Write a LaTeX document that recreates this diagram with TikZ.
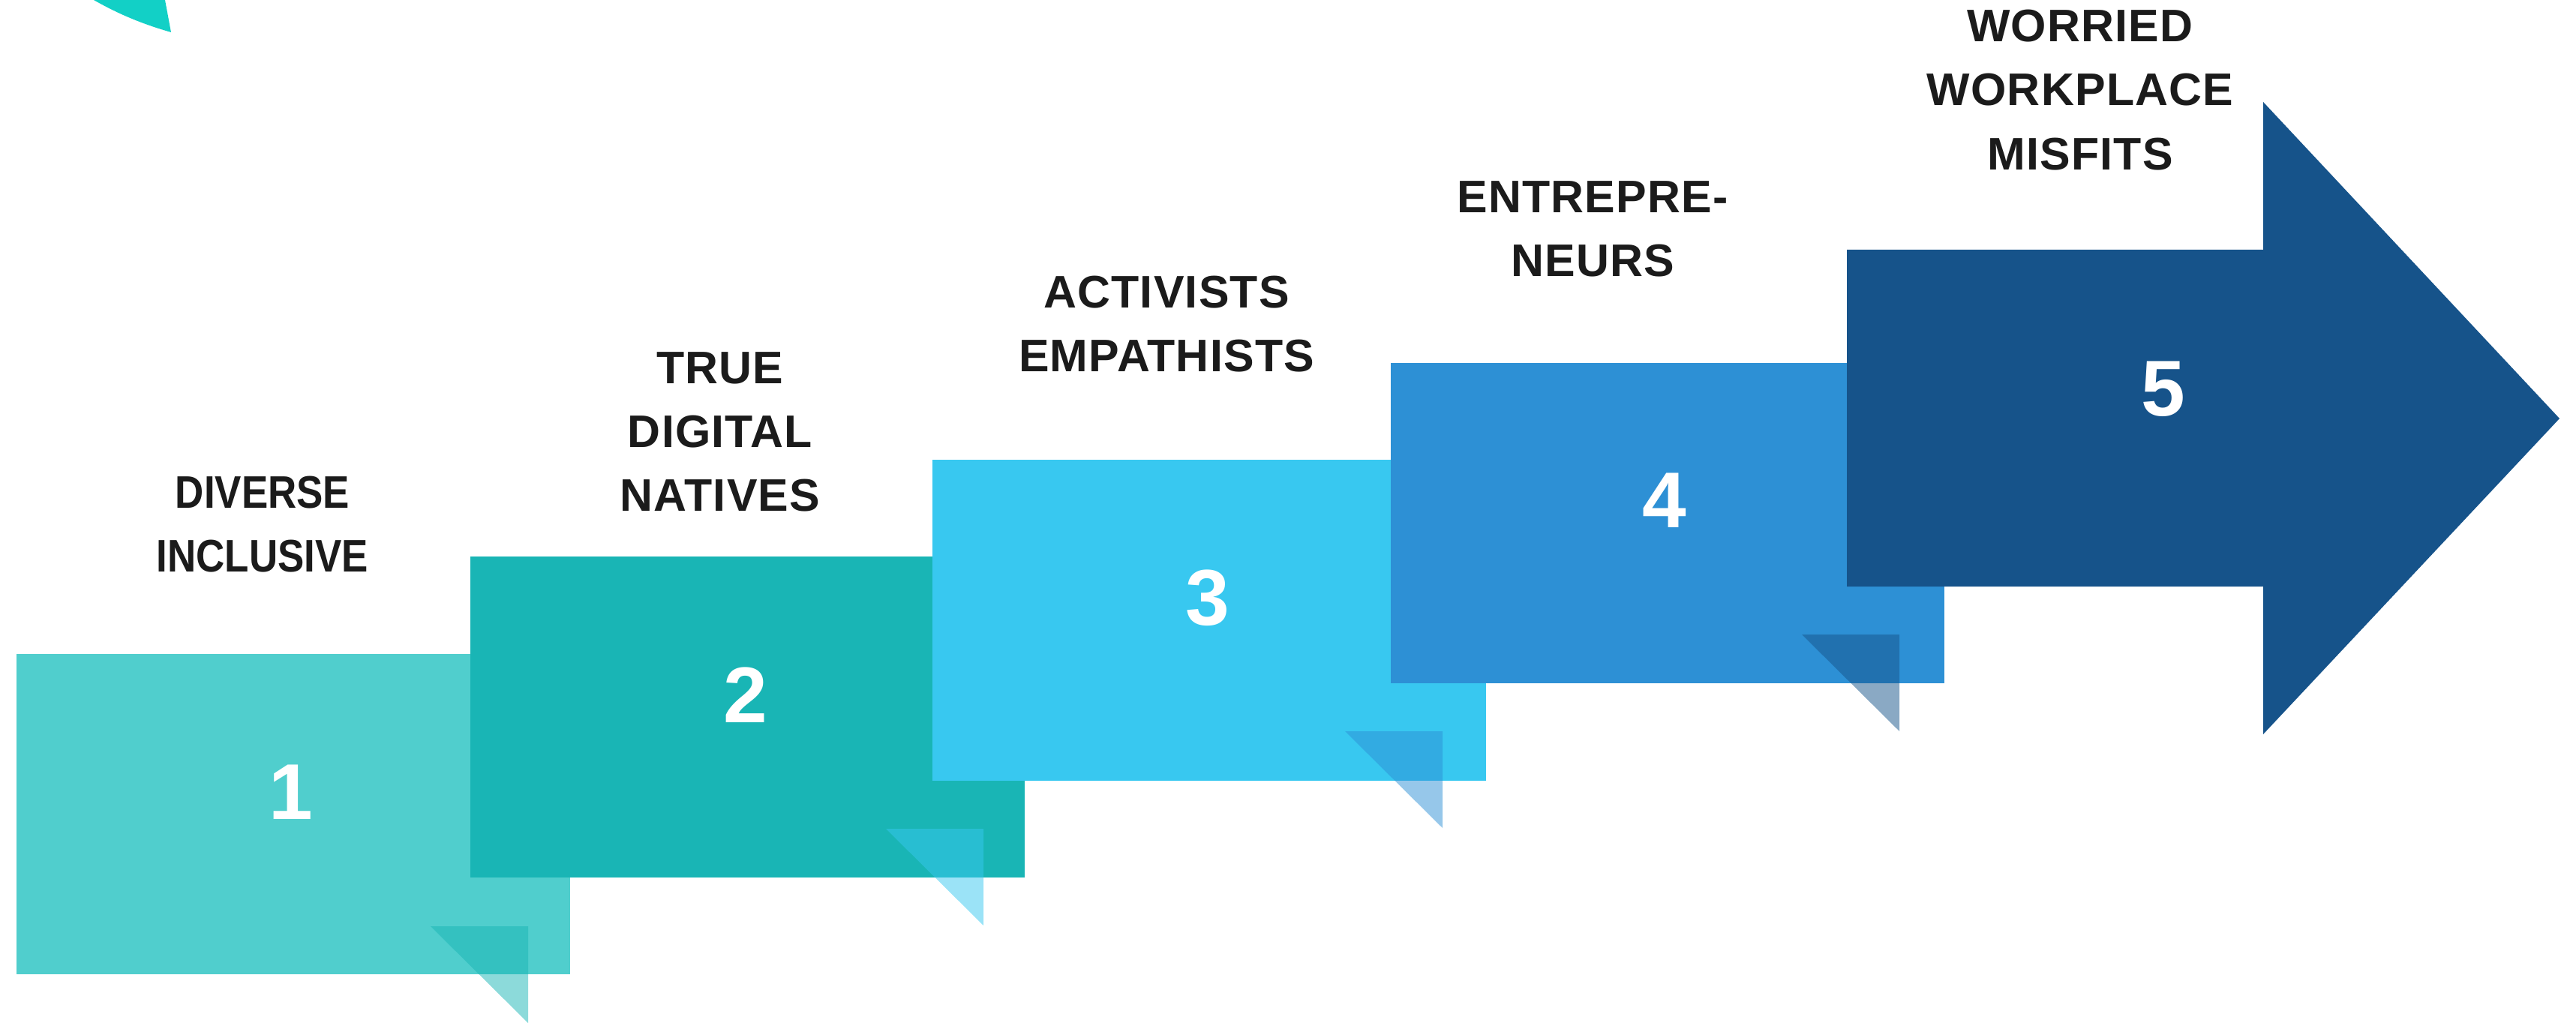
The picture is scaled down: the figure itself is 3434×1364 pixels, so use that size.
\documentclass[tikz,border=0pt]{standalone}
\usepackage{fontspec}
\setmainfont{Liberation Sans}
\newfontfamily\labfont{Liberation Sans}[LetterSpace=2]
\newfontfamily\narrowfont{Liberation Sans}[FakeStretch=0.87]
\definecolor{c1}{HTML}{50CECD}
\definecolor{c2}{HTML}{19B5B5}
\definecolor{c3}{HTML}{38C8F0}
\definecolor{c4}{HTML}{2D90D5}
\definecolor{c5}{HTML}{16538A}
\definecolor{corner}{HTML}{12D0C6}
\definecolor{txt}{HTML}{1B1B1B}
\begin{document}
\begin{tikzpicture}[x=0.01cm,y=-0.01cm,
  box/.style={rectangle, draw=none, inner sep=0, minimum width=7.38cm, minimum height=4.27cm},
  tri/.style={opacity=0.5},
  num/.style={text=white, font=\bfseries\fontsize{30}{36}\selectfont, inner sep=0},
  lab/.style={text=txt, font=\labfont\bfseries\fontsize{17.3}{24.2}\selectfont, align=center, inner sep=0}]
\useasboundingbox (0,0) rectangle (3434,1364);
% corner arc piece
\fill[corner] (125,0) .. controls (160,20) and (193,33) .. (228,43) -- (220,0) -- cycle;
% steps
\node[box, fill=c1] (b1) at (391,1085.5) {};
\fill[c2, tri] (574,1235) -- (704,1235) -- (704,1364) -- cycle;
\node[box, fill=c2] (b2) at (996.5,956) {};
\fill[c3, tri] (1181,1105) -- (1311,1105) -- (1311,1234) -- cycle;
\node[box, fill=c3] (b3) at (1612,827) {};
\fill[c4, tri] (1793,975) -- (1923,975) -- (1923,1104) -- cycle;
\node[box, fill=c4] (b4) at (2223,697.5) {};
\fill[c5, tri] (2402,846) -- (2532,846) -- (2532,975) -- cycle;
% arrow
\fill[c5] (2462,333) -- (3017,333) -- (3017,136) -- (3412,558) -- (3017,979) -- (3017,782) -- (2462,782) -- cycle;
% numbers
\node[num] (n1) at (388,1056) {1};
\node[num] (n2) at (994,927) {2};
\node[num] (n3) at (1610,797) {3};
\node[num] (n4) at (2219,667) {4};
\node[num] (n5) at (2884,519) {5};
% labels
\node[lab, font=\narrowfont\bfseries\fontsize{17.3}{24.2}\selectfont] (l1) at (350,699) {DIVERSE\\INCLUSIVE};
\node[lab] (l2) at (960,576) {TRUE\\DIGITAL\\NATIVES};
\node[lab] (l3) at (1555,432) {ACTIVISTS\\EMPATHISTS};
\node[lab] (l4) at (2123,305) {ENTREPRE-\\NEURS};
\node[lab] (l5) at (2773,120) {WORRIED\\WORKPLACE\\MISFITS};
\end{tikzpicture}
\end{document}
